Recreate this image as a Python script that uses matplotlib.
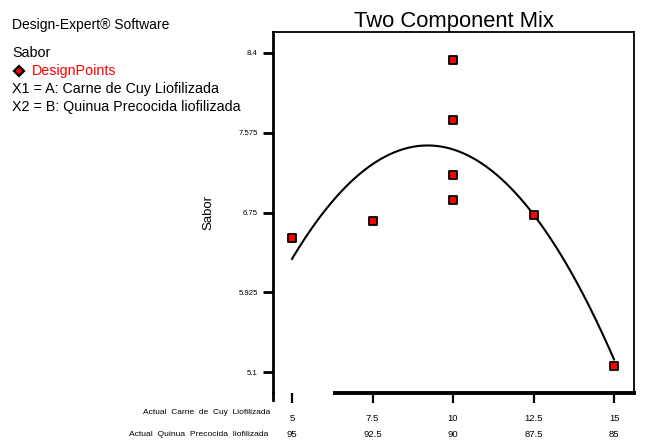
import numpy as np
import matplotlib
matplotlib.use("Agg")
import matplotlib.pyplot as plt
from matplotlib.lines import Line2D
from matplotlib.markers import MarkerStyle

plt.rcParams['font.family'] = ['Liberation Sans', 'DejaVu Sans']

# Design points: A = Carne de Cuy Liofilizada, response = Sabor
carne = [5, 7.5, 10, 10, 10, 10, 12.5, 15]
sabor = [6.49, 6.66, 8.33, 7.71, 7.14, 6.88, 6.72, 5.16]

tick_carne = [5, 7.5, 10, 12.5, 15]
tick_carne_labels = ['5', '7.5', '10', '12.5', '15']
tick_quinua_labels = ['95', '92.5', '90', '87.5', '85']
yticks = [5.1, 5.925, 6.75, 7.575, 8.4]
ytick_labels = ['5.1', '5.925', '6.75', '7.575', '8.4']

fig = plt.figure(figsize=(6.45, 4.41), dpi=100)
ax = fig.add_axes([273 / 645, 1 - 393 / 441, (634 - 273) / 645, (393 - 32) / 441])

# quadratic mixture model fitted to the design points
coef = np.polyfit(carne, sabor, 2)
xs = np.linspace(5, 15, 200)
ax.plot(xs, np.polyval(coef, xs), color='black', lw=1.5, zorder=2)

pt = MarkerStyle('s', joinstyle='round')
ax.plot(carne, sabor, ls='none', marker=pt, ms=5.6, mfc='red', mec='black',
        mew=1.3, zorder=3)

ax.set_xlim(4.41, 15.62)
ax.set_ylim(4.883, 8.617)

# frame
for side in ['top', 'right']:
    ax.spines[side].set_linewidth(1.3)
ax.spines['left'].set_linewidth(2)
ax.spines['bottom'].set_visible(False)
ax.add_line(Line2D([0, 0], [0, -0.02], transform=ax.transAxes, color='black',
                   lw=2, clip_on=False))
ax.add_line(Line2D([(333 - 273) / 361, 1.005], [0, 0], transform=ax.transAxes,
                   color='black', lw=2.8, clip_on=False, solid_capstyle='butt'))

ax.set_yticks(yticks)
ax.set_yticklabels(ytick_labels, fontsize=5.6)
ax.tick_params(axis='y', direction='out', length=7, width=2, pad=4)

ax.set_xticks(tick_carne)
ax.set_xticklabels(tick_carne_labels, fontsize=6.8)
ax.tick_params(axis='x', direction='out', length=7, width=1.6, pad=8)
for x, lab in zip(tick_carne, tick_quinua_labels):
    ax.text(x, -0.115, lab, transform=ax.get_xaxis_transform(), ha='center',
            va='center', fontsize=6.8)

fig.text(270 / 645, 1 - 412 / 441, 'Actual  Carne  de  Cuy  Liofilizada',
         ha='right', va='center', fontsize=6)
fig.text(268 / 645, 1 - 435 / 441, 'Actual  Quinua  Precocida  liofilizada',
         ha='right', va='center', fontsize=6.1)

ax.set_ylabel('Sabor', fontsize=9.5, labelpad=17)
ax.set_title('Two Component Mix', fontsize=15.8, pad=2)

# header block
fig.text(12 / 645, 1 - 25 / 441, 'Design-Expert® Software', fontsize=10, va='center')
fig.text(12 / 645, 1 - 53 / 441, 'Sabor', fontsize=10.3, va='center')
fig.add_artist(Line2D([19 / 645], [1 - 71 / 441], marker='D', ms=5, mfc='red',
                      mec='black', mew=1.6, ls='none'))
fig.text(32 / 645, 1 - 71 / 441, 'DesignPoints', fontsize=10.3, color='red', va='center')
fig.text(12 / 645, 1 - 89 / 441, 'X1 = A: Carne de Cuy Liofilizada', fontsize=10.3, va='center')
fig.text(12 / 645, 1 - 107 / 441, 'X2 = B: Quinua Precocida liofilizada', fontsize=10.3, va='center')

fig.savefig('out.png', dpi=100)
